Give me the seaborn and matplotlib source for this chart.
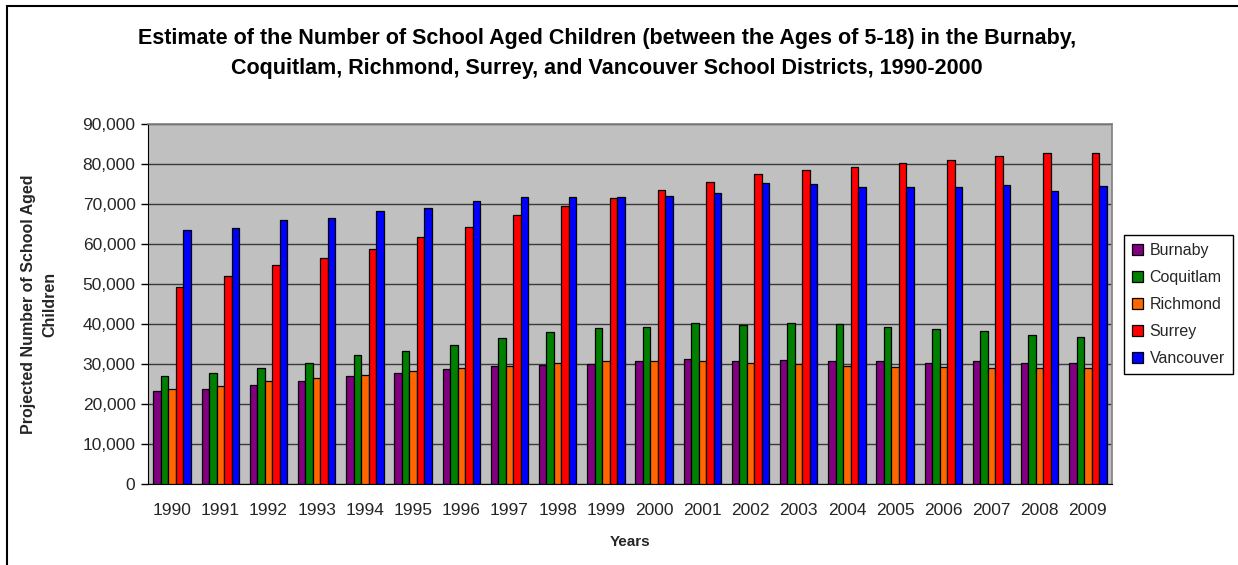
import pandas as pd
import matplotlib
matplotlib.use("Agg")
import matplotlib.pyplot as plt
import seaborn as sns
from matplotlib.patches import Rectangle
from matplotlib.ticker import FuncFormatter, MultipleLocator

years = list(range(1990, 2010))
burnaby = [23300, 23700, 24800, 25900, 27000, 27800, 28700, 29600, 29800, 30100,
           30900, 31200, 30900, 31000, 30700, 30700, 30400, 30700, 30300, 30300]
coquitlam = [27000, 27800, 29000, 30300, 32200, 33400, 34800, 36600, 38000, 39100,
             39300, 40250, 39700, 40250, 40000, 39200, 38800, 38250, 37200, 36800]
richmond = [23700, 24500, 25700, 26500, 27300, 28400, 29000, 29600, 30300, 30700,
            30700, 30900, 30400, 30100, 29600, 29250, 29250, 29000, 29000, 29000]
surrey = [49200, 52000, 54800, 56500, 58750, 61750, 64300, 67400, 69700, 71600,
          73600, 75600, 77500, 78700, 79400, 80300, 81200, 82000, 82800, 82800]
vancouver = [63500, 64100, 66100, 66600, 68300, 69100, 70800, 71800, 71800, 71800,
             72200, 72750, 75300, 75000, 74400, 74400, 74400, 74750, 73300, 74700]

districts = ["Burnaby", "Coquitlam", "Richmond", "Surrey", "Vancouver"]
colors = ["#800080", "#008000", "#FF6600", "#FF0000", "#0000FF"]

# long-form table for seaborn
series = [burnaby, coquitlam, richmond, surrey, vancouver]
rows = []
for name, vals in zip(districts, series):
    for y, v in zip(years, vals):
        rows.append({"Year": str(y), "District": name, "Children": v})
df = pd.DataFrame(rows)

sns.set_style("white")
plt.rcParams["font.family"] = ["Liberation Sans", "DejaVu Sans"]

fig = plt.figure(figsize=(12.38, 5.65), dpi=100)
W, H = 1238, 565
ax = fig.add_axes([148 / W, (H - 484) / H, (1112 - 148) / W, (484 - 124.5) / H])
ax.set_facecolor("#C0C0C0")

sns.barplot(data=df, x="Year", y="Children", hue="District", palette=colors,
            width=0.78, gap=0, edgecolor="black", linewidth=0.9,
            saturation=1, ax=ax, zorder=3)

ax.set_ylim(0, 90000)
ax.set_xlim(-0.5, len(years) - 0.5)
ax.yaxis.set_major_locator(MultipleLocator(10000))
ax.yaxis.set_major_formatter(FuncFormatter(lambda v, p: f"{int(v):,}"))
ax.grid(axis="y", color="#3a3a3a", linewidth=1.0, zorder=0)
ax.set_axisbelow(True)

# ticks between categories
ax.set_xticks(range(len(years)))
ax.set_xticks([i - 0.5 for i in range(len(years) + 1)], minor=True)
ax.tick_params(axis="x", which="major", length=0, pad=14, labelsize=12.5)
ax.tick_params(axis="x", which="minor", length=5, width=1, color="black", direction="out")
ax.tick_params(axis="y", length=5, width=1, color="black", direction="out",
               labelsize=12.5, pad=4, left=True)

for side in ["top", "right"]:
    ax.spines[side].set_color("#808080")
    ax.spines[side].set_linewidth(1.2)
ax.spines["left"].set_color("black")
ax.spines["bottom"].set_color("black")

ax.set_xlabel("Years", fontsize=11, fontweight="bold", labelpad=12)
ax.set_ylabel("Projected Number of School Aged\nChildren", fontsize=11.5,
              fontweight="bold", labelpad=18, linespacing=1.5)

fig.suptitle("Estimate of the Number of School Aged Children (between the Ages of 5-18) in the Burnaby,\n"
             "Coquitlam, Richmond, Surrey, and Vancouver School Districts, 1990-2000",
             x=0.49, y=0.95, fontsize=15.5, fontweight="bold", linespacing=1.55,
             color="black")

handles, labels = ax.get_legend_handles_labels()
ax.legend_.remove()
leg = fig.legend(handles, labels, loc="upper left",
                 bbox_to_anchor=(1124 / W, 1 - 235 / H), fontsize=11.5,
                 frameon=True, fancybox=False, edgecolor="black", framealpha=1,
                 handlelength=0.7, handleheight=0.7, handletextpad=0.4,
                 labelspacing=0.75, borderpad=0.5, borderaxespad=0)
leg.get_frame().set_linewidth(1.0)

# outer chart frame
fig.patches.append(Rectangle((7 / W, -0.05), 1.1, 1 - 6 / H + 0.05, transform=fig.transFigure,
                             fill=False, edgecolor="black", linewidth=1.5))

fig.savefig("out.png", dpi=100)
